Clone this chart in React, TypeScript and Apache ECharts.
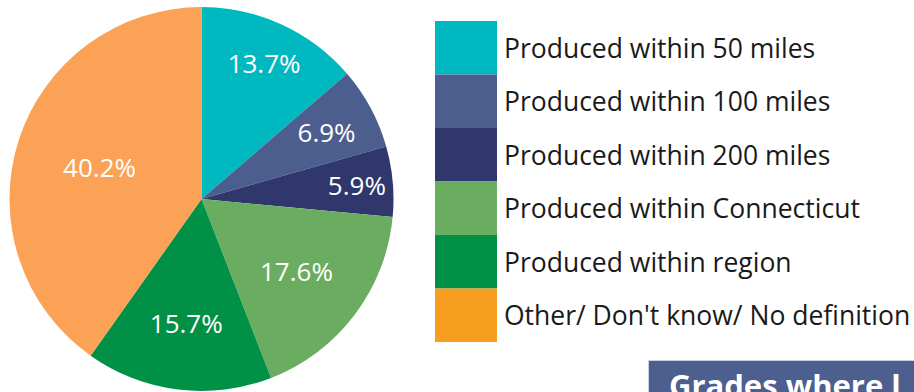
import React, { useEffect, useRef } from "react";
import * as echarts from "echarts";

const categories = [
  "Produced within 50 miles",
  "Produced within 100 miles",
  "Produced within 200 miles",
  "Produced within Connecticut",
  "Produced within region",
  "Other/ Don't know/ No definition",
];
const values = [13.7, 6.9, 5.9, 17.6, 15.7, 40.2];
const pieColors = ["#00B8C0", "#4C5E8E", "#2F376D", "#6AAD60", "#009146", "#FBA256"];
const legendColors = ["#00B8C0", "#4C5E8E", "#2F376D", "#6AAD60", "#009146", "#F79E20"];
// distance of each percentage label from the pie centre
const labelRadii = [147, 139, 153, 116, 122, 104];

const CENTER: [number, number] = [201.5, 199];
const RADIUS = 192;

export default function App() {
  const ref = useRef<HTMLDivElement>(null);
  useEffect(() => {
    if (!ref.current) return;
    const chart = echarts.init(ref.current, undefined, { renderer: "svg" });
    const mainSeries = {
      type: "pie",
      center: CENTER,
      radius: [0, RADIUS],
      startAngle: 90,
      clockwise: true,
      silent: true,
      label: { show: false },
      labelLine: { show: false },
      emphasis: { disabled: true },
      data: categories.map((name, i) => ({
        name,
        value: values[i],
        itemStyle: { color: pieColors[i], borderWidth: 0 },
      })),
    };
    const labelSeries = labelRadii.map((r, k) => ({
      type: "pie",
      center: CENTER,
      radius: [0, r * 2],
      startAngle: 90,
      clockwise: true,
      silent: true,
      z: 5,
      emphasis: { disabled: true },
      labelLine: { show: false },
      data: categories.map((name, i) => ({
        name,
        value: values[i],
        itemStyle: { color: "rgba(0,0,0,0)" },
        label: {
          show: i === k,
          position: "inside",
          formatter: "{c}%",
          color: "#ffffff",
          fontSize: 26,
          fontFamily: "Open Sans",
        },
      })),
    }));
    chart.setOption({
      animation: false,
      backgroundColor: "#ffffff",
      legend: {
        orient: "vertical",
        left: 435,
        top: 21,
        padding: 0,
        itemWidth: 62,
        itemHeight: 53.5,
        itemGap: 0,
        icon: "rect",
        selectedMode: false,
        textStyle: {
          fontSize: 26.5,
          fontFamily: "Open Sans",
          color: "#1a1a1a",
          padding: [4, 0, 0, 2],
        },
        data: categories.map((name, i) => ({
          name,
          itemStyle: { color: legendColors[i] },
        })),
      },
      graphic: [
        {
          type: "rect",
          shape: { x: 648.5, y: 360.5, width: 280, height: 50 },
          style: { fill: "#4D5F8E", stroke: "#C9D1E2", lineWidth: 1 },
        },
        {
          type: "text",
          x: 669,
          y: 385,
          style: {
            text: "Grades where l",
            fill: "#ffffff",
            fontSize: 31,
            fontWeight: "bold",
            fontFamily: "Open Sans",
            verticalAlign: "middle",
          },
        },
      ],
      series: [mainSeries, ...labelSeries],
    });
    return () => chart.dispose();
  }, []);
  return (
    <div
      ref={ref}
      style={{ position: "fixed", left: 0, top: 0, width: 914, height: 392 }}
    />
  );
}
